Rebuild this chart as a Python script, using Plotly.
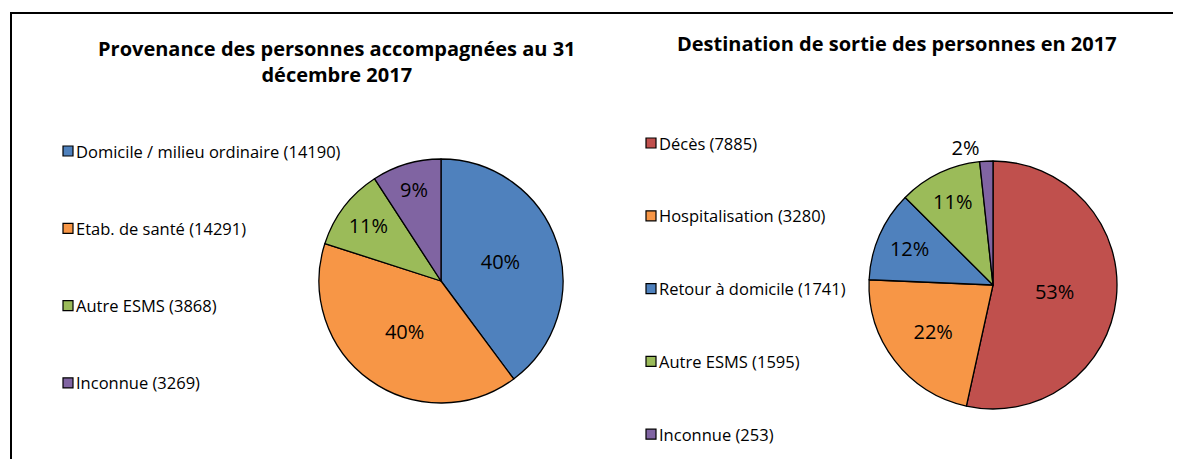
import plotly.graph_objects as go

W, H = 1181, 459
OFF = 8  # default page body margin in the written html

# ---- data ----
prov_labels = ["Domicile / milieu ordinaire", "Etab. de santé", "Autre ESMS", "Inconnue"]
prov_values = [14190, 14291, 3868, 3269]
prov_colors = ["#4F81BD", "#F79646", "#9BBB59", "#8064A2"]

dest_labels = ["Décès", "Hospitalisation", "Retour à domicile", "Autre ESMS", "Inconnue"]
dest_values = [7885, 3280, 1741, 1595, 253]
dest_colors = ["#C0504D", "#F79646", "#4F81BD", "#9BBB59", "#8064A2"]

title_left = "Provenance des personnes accompagnées au 31<br>décembre 2017"
title_right = "Destination de sortie des personnes en 2017"

FONT = "Open Sans"

def px(x):
    return (x - OFF) / W

def py(y):
    return 1 - (y - OFF) / H

def pie_domain(cx, cy, r):
    return dict(x=[px(cx - r), px(cx + r)], y=[py(cy + r), py(cy - r)])

fig = go.Figure()

fig.add_trace(go.Pie(
    labels=prov_labels, values=prov_values,
    marker=dict(colors=prov_colors, line=dict(color="black", width=1.3)),
    sort=False, direction="clockwise", rotation=0,
    texttemplate="%{percent:.0%}", textposition="inside",
    insidetextorientation="horizontal",
    textfont=dict(family=FONT, size=20, color="black"),
    domain=pie_domain(441, 281, 122), showlegend=False, name="prov",
))

dest_pos = ["inside"] * (len(dest_values) - 1) + ["outside"]
fig.add_trace(go.Pie(
    labels=dest_labels, values=dest_values,
    marker=dict(colors=dest_colors, line=dict(color="black", width=1.3)),
    sort=False, direction="clockwise", rotation=0,
    texttemplate="%{percent:.0%}", textposition=dest_pos,
    insidetextorientation="horizontal",
    textfont=dict(family=FONT, size=20, color="black"),
    domain=pie_domain(993, 285, 124), showlegend=False, name="dest",
))

annotations = []
shapes = []

# titles
annotations.append(dict(text="<b>" + title_left + "</b>", x=px(337), y=py(61), xref="paper", yref="paper",
                        xanchor="center", yanchor="middle",
                        showarrow=False, font=dict(family=FONT, size=20, color="black"), align="center"))
annotations.append(dict(text="<b>" + title_right + "</b>", x=px(897), y=py(44), xref="paper", yref="paper",
                        xanchor="center", yanchor="middle",
                        showarrow=False, font=dict(family=FONT, size=20, color="black"), align="center"))

# custom legends built from data
def add_legend(labels, values, colors, x0, y0, dy):
    for i, (lab, val, col) in enumerate(zip(labels, values, colors)):
        yc = y0 + i * dy
        shapes.append(dict(type="rect", xref="paper", yref="paper",
                           x0=px(x0), x1=px(x0 + 10), y0=py(yc + 5), y1=py(yc - 5),
                           fillcolor=col, line=dict(color="black", width=1.2)))
        annotations.append(dict(text=f"{lab} ({val})", x=px(x0 + 11), y=py(yc), xref="paper", yref="paper",
                                xanchor="left", yanchor="middle", showarrow=False,
                                font=dict(family=FONT, size=16.5, color="black")))

add_legend(prov_labels, prov_values, prov_colors, 63, 151, 77.3)
add_legend(dest_labels, dest_values, dest_colors, 646, 143, 72.8)

# outer border (top and left)
shapes.append(dict(type="line", xref="paper", yref="paper", x0=px(10), x1=1, y0=py(13), y1=py(13),
                   line=dict(color="black", width=2)))
shapes.append(dict(type="line", xref="paper", yref="paper", x0=px(11), x1=px(11), y0=py(13), y1=0,
                   line=dict(color="black", width=2)))

fig.update_layout(
    width=W, height=H, margin=dict(l=0, r=0, t=0, b=0),
    paper_bgcolor="white", plot_bgcolor="white",
    annotations=annotations, shapes=shapes,
    font=dict(family=FONT, color="black"),
)

fig.write_html("out.html")
